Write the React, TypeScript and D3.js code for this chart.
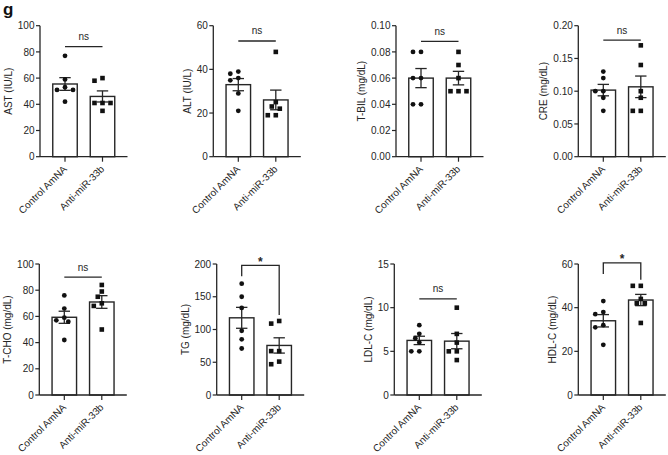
import React from "react";
import * as d3 from "d3";

// ---------- DATA ----------
const categories = ["Control AmNA", "Anti-miR-33b"];
const panelLabels = [
  "AST (IU/L)", "ALT (IU/L)", "T-BIL (mg/dL)", "CRE (mg/dL)",
  "T-CHO (mg/dL)", "TG (mg/dL)", "LDL-C (mg/dL)", "HDL-C (mg/dL)",
];
const astControl = [77, 59, 53, 51, 51, 42];
const astAnti = [60, 58, 41, 41, 41, 35];
const altControl = [39, 38, 36, 35, 29, 21];
const altAnti = [48, 25, 23, 22, 19, 19];
const tbilControl = [0.08, 0.08, 0.06, 0.06, 0.04, 0.04];
const tbilAnti = [0.08, 0.07, 0.06, 0.05, 0.05, 0.05];
const creControl = [0.13, 0.12, 0.1, 0.1, 0.09, 0.07];
const creAnti = [0.17, 0.14, 0.1, 0.09, 0.07, 0.07];
const tchoControl = [76, 66, 59, 57, 56, 42];
const tchoAnti = [84, 79, 75, 70, 68, 50];
const tgControl = [170, 150, 133, 98, 85, 71];
const tgAnti = [113, 109, 67, 67, 51, 47];
const ldlControl = [8, 7, 6.5, 6, 5, 5];
const ldlAnti = [10, 7, 6, 5, 5, 4];
const hdlControl = [43, 38, 37, 32, 31, 23];
const hdlAnti = [50, 50, 44, 42, 42, 33];

const astTicks = [0, 20, 40, 60, 80, 100];
const altTicks = [0, 20, 40, 60];
const tbilTicks = [0, 0.02, 0.04, 0.06, 0.08, 0.1];
const creTicks = [0, 0.05, 0.1, 0.15, 0.2];
const tchoTicks = [0, 20, 40, 60, 80, 100];
const tgTicks = [0, 50, 100, 150, 200];
const ldlTicks = [0, 5, 10, 15];
const hdlTicks = [0, 20, 40, 60];

const sigLabels = ["ns", "ns", "ns", "ns", "ns", "*", "ns", "*"];
const sigLevels = [84, 53, 0.088, 0.178, 90, 198, 11, 60.5];

const controlSeries = [astControl, altControl, tbilControl, creControl, tchoControl, tgControl, ldlControl, hdlControl];
const antiSeries = [astAnti, altAnti, tbilAnti, creAnti, tchoAnti, tgAnti, ldlAnti, hdlAnti];
const tickSets = [astTicks, altTicks, tbilTicks, creTicks, tchoTicks, tgTicks, ldlTicks, hdlTicks];

// ---------- LAYOUT ----------
const W = 668;
const H = 455;
const axisXs = [40, 213.3, 396, 578.3, 39.3, 216.7, 394.3, 578.3];
const rowTops = [25.7, 264];
const rowBottoms = [156.7, 395];
const AXIS_LEN = 87.5;
const BAR_W = 24.5;
const INK = "#262626";
const FONT = "'Liberation Sans', Arial, Helvetica, sans-serif";

function swarm(values: number[], y: (v: number) => number, cx: number) {
  const placed: { x: number; y: number }[] = [];
  const order = values.map((v, i) => i).sort((a, b) => values[b] - values[a]);
  const xs: number[] = new Array(values.length);
  const cands = [0, -4, 4, -8, 8, -12, 12];
  const minD = 5.5;
  for (const i of order) {
    const py = y(values[i]);
    let chosen = cands[cands.length - 1];
    for (const c of cands) {
      const px = cx + c;
      if (placed.every((p) => Math.hypot(p.x - px, p.y - py) >= minD)) {
        chosen = c;
        break;
      }
    }
    xs[i] = cx + chosen;
    placed.push({ x: cx + chosen, y: py });
  }
  return xs;
}

function Panel({ i }: { i: number }) {
  const row = Math.floor(i / 4);
  const ax = axisXs[i];
  const y0 = rowBottoms[row];
  const y1 = rowTops[row];
  const ticks = tickSets[i];
  const max = ticks[ticks.length - 1];
  const yScale = d3.scaleLinear().domain([0, max]).range([y0, y1]);
  const xScale = d3.scalePoint<string>().domain(categories).range([ax, ax + AXIS_LEN]).padding(0.667);
  const fmt = max < 1 ? d3.format(".2f") : d3.format("d");
  const tickLabels = ticks.map((t) => fmt(t));
  const tickW = tickLabels.reduce((m, s) => Math.max(m, s.replace(".", "").length * 5.56 + (s.includes(".") ? 2.78 : 0)), 0);
  const labelCx = ax - (tickW + 15);
  const groups = [controlSeries[i], antiSeries[i]];
  const stats = groups.map((g) => {
    const m = d3.mean(g) as number;
    const sd = d3.deviation(g) as number;
    return { mean: m, sem: sd / Math.sqrt(g.length) };
  });
  const cxs = categories.map((c) => xScale(c) as number);
  const sigY = yScale(sigLevels[i]);
  const isStar = sigLabels[i] === "*";

  return (
    <g>
      {/* bars */}
      {groups.map((g, k) => (
        <rect
          key={"bar" + k}
          x={cxs[k] - BAR_W / 2}
          y={yScale(stats[k].mean)}
          width={BAR_W}
          height={y0 - yScale(stats[k].mean)}
          fill="#fff"
          stroke={INK}
          strokeWidth={1.4}
        />
      ))}
      {/* error bars */}
      {stats.map((s, k) => (
        <g key={"err" + k} stroke={INK} strokeWidth={1.3}>
          <line x1={cxs[k]} x2={cxs[k]} y1={yScale(s.mean + s.sem)} y2={yScale(s.mean - s.sem)} />
          <line x1={cxs[k] - 5.7} x2={cxs[k] + 5.7} y1={yScale(s.mean + s.sem)} y2={yScale(s.mean + s.sem)} />
          <line x1={cxs[k] - 5.7} x2={cxs[k] + 5.7} y1={yScale(s.mean - s.sem)} y2={yScale(s.mean - s.sem)} />
        </g>
      ))}
      {/* points */}
      {groups.map((g, k) => {
        const xs = swarm(g, yScale, cxs[k]);
        return g.map((v, j) =>
          k === 0 ? (
            <circle key={`p${k}-${j}`} cx={xs[j]} cy={yScale(v)} r={2.4} fill="#111" />
          ) : (
            <rect key={`p${k}-${j}`} x={xs[j] - 2.3} y={yScale(v) - 2.3} width={4.6} height={4.6} fill="#111" />
          )
        );
      })}
      {/* y axis */}
      <line x1={ax} x2={ax} y1={y1} y2={y0} stroke={INK} strokeWidth={1.3} />
      {ticks.map((t, k) => (
        <g key={"yt" + k}>
          <line x1={ax - 4} x2={ax} y1={yScale(t)} y2={yScale(t)} stroke={INK} strokeWidth={1.2} />
          <text x={ax - 5.5} y={yScale(t) + 3.6} textAnchor="end" fontSize={10} fill={INK} fontFamily={FONT}>
            {tickLabels[k]}
          </text>
        </g>
      ))}
      <text
        transform={`translate(${labelCx + 3.5},${(y0 + y1) / 2}) rotate(-90)`}
        textAnchor="middle"
        fontSize={10}
        fill={INK}
        fontFamily={FONT}
      >
        {panelLabels[i]}
      </text>
      {/* x axis */}
      <line x1={ax} x2={ax + AXIS_LEN} y1={y0} y2={y0} stroke={INK} strokeWidth={1.3} />
      {categories.map((c, k) => (
        <g key={"xt" + k}>
          <line x1={cxs[k]} x2={cxs[k]} y1={y0} y2={y0 + 5} stroke={INK} strokeWidth={1.2} />
          <text
            transform={`translate(${cxs[k] + 2.5},${y0 + 13}) rotate(-45)`}
            textAnchor="end"
            fontSize={10}
            fill={INK}
            fontFamily={FONT}
          >
            {c}
          </text>
        </g>
      ))}
      {/* significance */}
      {isStar ? (
        <g>
          <path
            d={`M${cxs[0]},${sigY + 11}V${sigY}H${cxs[1]}V${yScale(d3.max(groups[1]) as number) - 6}`}
            fill="none"
            stroke={INK}
            strokeWidth={1.3}
          />
          <text x={(cxs[0] + cxs[1]) / 2} y={sigY + 0.5} textAnchor="middle" fontSize={12} fontWeight="bold" fill={INK} fontFamily={FONT}>
            *
          </text>
        </g>
      ) : (
        <g>
          <line x1={cxs[0]} x2={cxs[1]} y1={sigY} y2={sigY} stroke={INK} strokeWidth={1.3} />
          <text x={(cxs[0] + cxs[1]) / 2} y={sigY - 6.5} textAnchor="middle" fontSize={10} fill={INK} fontFamily={FONT}>
            {sigLabels[i]}
          </text>
        </g>
      )}
    </g>
  );
}

export default function App() {
  return (
    <svg
      width={W}
      height={H}
      viewBox={`0 0 ${W} ${H}`}
      style={{ position: "absolute", left: 0, top: 0, background: "#fff" }}
    >
      <rect width={W} height={H} fill="#fff" />
      <text x={3} y={15} fontSize={17} fontWeight="bold" fill="#111" fontFamily={FONT}>
        g
      </text>
      {panelLabels.map((_, i) => (
        <Panel key={i} i={i} />
      ))}
    </svg>
  );
}
